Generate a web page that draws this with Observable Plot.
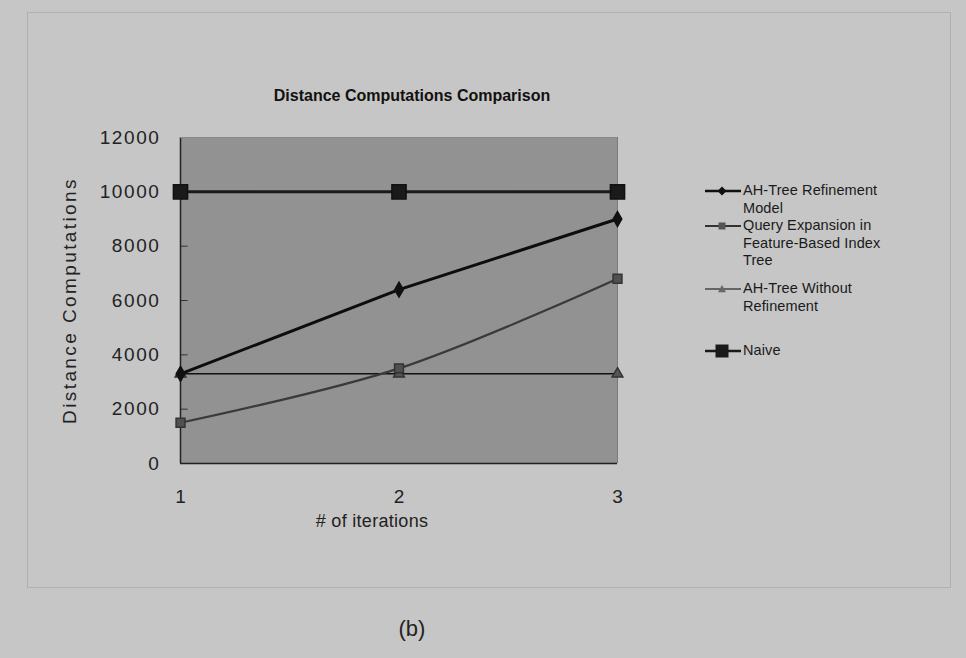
<!DOCTYPE html>
<html>
<head>
<meta charset="utf-8">
<script src="https://cdn.jsdelivr.net/npm/d3@7"></script>
<script src="https://cdn.jsdelivr.net/npm/@observablehq/plot@0.6"></script>
<style>
  html, body { margin: 0; padding: 0; }
  #wrap { position: relative; width: 966px; height: 658px; background: #c6c6c6; overflow: hidden;
          font-family: "Liberation Sans", Arial, sans-serif; color: #1a1a1a; }
  #border { position: absolute; left: 27px; top: 12px; width: 922px; height: 574px; border: 1px solid #b0b0b0; }
  #title { position: absolute; left: 0; width: 824px; top: 87px; text-align: center;
           font-weight: bold; font-size: 16px; color: #111; }
  #xlabel { position: absolute; left: 272px; width: 200px; top: 511px; text-align: center; font-size: 18px; letter-spacing: 0.3px; color: #222; }
  #caption { position: absolute; left: 0; width: 824px; top: 616px; text-align: center; font-size: 22px; color: #222; }
  #chart { position: absolute; left: 0; top: 0; }
  #chart [aria-label="y-axis label"] text { letter-spacing: 2.4px; }
  #chart [aria-label="y-axis tick label"] text { letter-spacing: 1.6px; }
  #chart [aria-label="x-axis tick label"] text { letter-spacing: 0; }
  #legend { position: absolute; left: 703px; top: 180px; font-size: 14.5px; color: #1a1a1a; letter-spacing: 0.1px; }
  .item { position: absolute; left: 0; display: flex; align-items: flex-start; width: 250px; }
  .item svg { flex: none; }
  .item span { line-height: 17.5px; }
</style>
</head>
<body>
<div id="wrap">
  <div id="border"></div>
  <div id="chart"></div>
  <div id="title">Distance Computations Comparison</div>
  <div id="xlabel"># of iterations</div>
  <div id="legend"></div>
  <div id="caption">(b)</div>
</div>
<script>
const iterations = [1, 2, 3];
const seriesNames = [
  "AH-Tree Refinement Model",
  "Query Expansion in Feature-Based Index Tree",
  "AH-Tree Without Refinement",
  "Naive"
];
const refinementModel = [3300, 6400, 9000];
const queryExpansion = [1500, 3500, 6800];
const withoutRefinement = [3300, 3300, 3300];
const naive = [10000, 10000, 10000];
const yTicks = [0, 2000, 4000, 6000, 8000, 10000, 12000];

const rows = (name, vals) => iterations.map((x, i) => ({series: name, x, y: vals[i]}));
const dRef = rows(seriesNames[0], refinementModel);
const dQE = rows(seriesNames[1], queryExpansion);
const dWo = rows(seriesNames[2], withoutRefinement);
const dNaive = rows(seriesNames[3], naive);

const plot = Plot.plot({
  width: 966,
  height: 658,
  marginLeft: 180,
  marginRight: 349,
  marginTop: 137,
  marginBottom: 195,
  style: {background: "transparent", fontFamily: "Liberation Sans, Arial, sans-serif", fontSize: "19px", color: "#222"},
  x: {domain: [1, 3]},
  y: {domain: [0, 12000]},
  marks: [
    Plot.frame({fill: "#929292", stroke: "none"}),
    Plot.axisY({ticks: yTicks, tickSize: 0, tickPadding: 20, tickFormat: d3.format("d"), label: "Distance Computations", labelAnchor: "center", labelArrow: "none", labelOffset: 118, fontSize: 19}),
    Plot.axisX({ticks: iterations, tickSize: 0, tickPadding: 26, tickFormat: d3.format("d"), label: null, fontSize: 19}),
    Plot.ruleY(yTicks.slice(1, -1), {x1: 1, x2: 1.035, stroke: "#333", strokeWidth: 1}),
    Plot.ruleY([0], {stroke: "#222", strokeWidth: 1.5}),
    Plot.ruleX([1], {stroke: "#222", strokeWidth: 1.5}),
    Plot.ruleX([3], {stroke: "#7a7a7a", strokeWidth: 1}),
    Plot.ruleY([12000], {stroke: "#8a8a8a", strokeWidth: 1}),
    // AH-Tree Without Refinement
    Plot.line(dWo, {x: "x", y: "y", stroke: "#111", strokeWidth: 1.5}),
    Plot.dot(dWo, {x: "x", y: "y", symbol: "triangle", r: 4, fill: "#555", stroke: "#333"}),
    // Query expansion
    Plot.line(dQE, {x: "x", y: "y", stroke: "#3a3a3a", strokeWidth: 2.2, curve: "catmull-rom"}),
    Plot.dot(dQE, {x: "x", y: "y", symbol: "square", r: 5, fill: "#505050", stroke: "#333"}),
    // Refinement model
    Plot.line(dRef, {x: "x", y: "y", stroke: "#0d0d0d", strokeWidth: 3}),
    Plot.dot(dRef, {x: "x", y: "y", symbol: "diamond", r: 4.5, fill: "#111", stroke: "#111"}),
    // Naive
    Plot.line(dNaive, {x: "x", y: "y", stroke: "#1a1a1a", strokeWidth: 3}),
    Plot.dot(dNaive, {x: "x", y: "y", symbol: "square", r: 8, fill: "#1a1a1a", stroke: "#111"})
  ]
});
document.getElementById("chart").appendChild(plot);

// Legend
const legendItems = [
  {lines: ["AH-Tree Refinement", "Model"], top: 2, stroke: "#111", sw: 2.5, shape: "diamond", size: 4.5, fill: "#111"},
  {lines: ["Query Expansion in", "Feature-Based Index", "Tree"], top: 37, stroke: "#333", sw: 1.8, shape: "square", size: 3.5, fill: "#555"},
  {lines: ["AH-Tree Without", "Refinement"], top: 100, stroke: "#444", sw: 1.5, shape: "triangle", size: 4, fill: "#666"},
  {lines: ["Naive"], top: 162, stroke: "#1a1a1a", sw: 2.5, shape: "square", size: 6.5, fill: "#1a1a1a"}
];
const legend = document.getElementById("legend");
legendItems.forEach(it => {
  const div = document.createElement("div");
  div.className = "item";
  div.style.top = it.top + "px";
  let marker = "";
  const cx = 19, cy = 9, s = it.size;
  if (it.shape === "diamond") marker = `<path d="M${cx},${cy - s}L${cx + s},${cy}L${cx},${cy + s}L${cx - s},${cy}Z" fill="${it.fill}"/>`;
  else if (it.shape === "square") marker = `<rect x="${cx - s}" y="${cy - s}" width="${2 * s}" height="${2 * s}" fill="${it.fill}"/>`;
  else marker = `<path d="M${cx},${cy - s}L${cx + s},${cy + s * 0.8}L${cx - s},${cy + s * 0.8}Z" fill="${it.fill}"/>`;
  div.innerHTML = `<svg width="40" height="18"><line x1="2" x2="38" y1="9" y2="9" stroke="${it.stroke}" stroke-width="${it.sw}"/>${marker}</svg><span>${it.lines.join("<br>")}</span>`;
  legend.appendChild(div);
});
</script>
</body>
</html>
